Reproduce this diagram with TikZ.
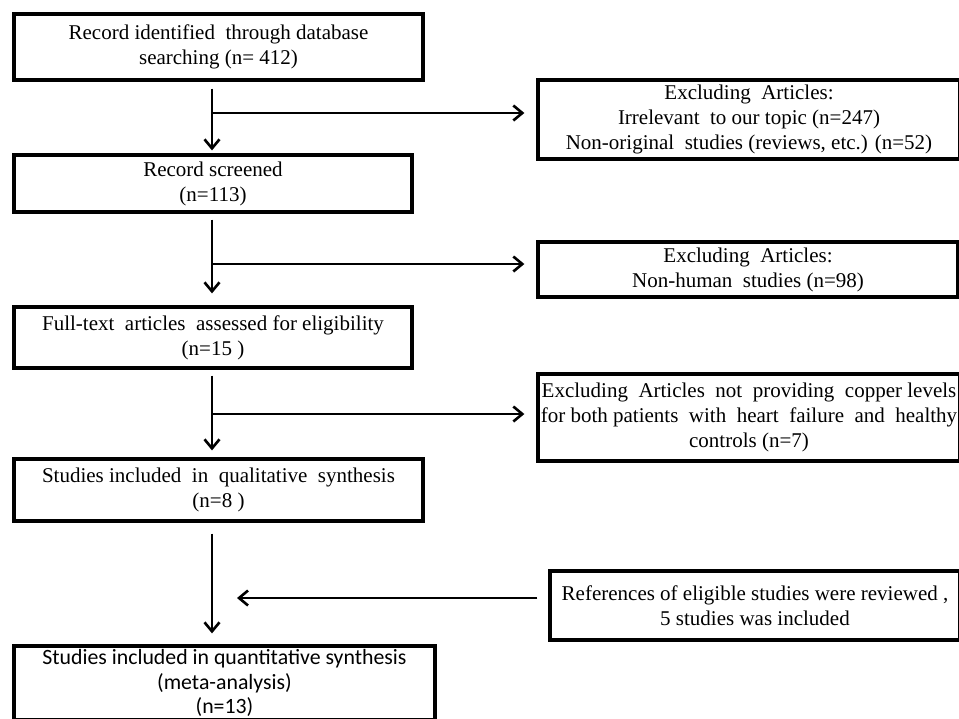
\documentclass[tikz,border=0pt]{standalone}
\usepackage{fontspec}
\setmainfont{Liberation Serif}
\newfontfamily\calibriFont{Carlito}
\usetikzlibrary{arrows.meta}

\begin{document}
\begin{tikzpicture}[x=1pt, y=-1pt, >={Straight Barb[length=9pt,width=15pt,line width=2.6pt]}]

% --- Style definitions ---
\tikzset{
    stageBox/.style={
        draw=black,
        line width=3.3pt,
        inner sep=0pt,
        align=center,
        font=\fontsize{21}{25}\selectfont
    },
    excludeBox/.style={
        stageBox
    },
    flowArrow/.style={
        ->,
        draw=black,
        line width=2.6pt
    }
}

\useasboundingbox (0,0) rectangle (959,718);

% =========================================================
% Left column: main flow
% =========================================================

\node[stageBox, minimum width=409pt, minimum height=66pt] (record) at (218.5,47)
    {Record identified\ \ through database\\searching (n= 412)};
\node[stageBox, minimum width=398pt, minimum height=57pt] (screened) at (213,183.5)
    {Record screened\\(n=113)};
\node[stageBox, minimum width=398pt, minimum height=61pt] (fulltext) at (213,337.5)
    {Full-text\ \ articles\ \ assessed for eligibility\\(n=15\ )};
\node[stageBox, minimum width=409pt, minimum height=62pt] (qualitative) at (218.5,490)
    {Studies included\ \ in\ \ qualitative\ \ synthesis\\(n=8\ )};
\node[stageBox, minimum width=421pt, minimum height=74pt,
      font=\calibriFont\fontsize{21.8}{24.5}\selectfont] (quantitative) at (224.5,683)
    {Studies included in quantitative synthesis\\(meta-analysis)\\(n=13)};

% =========================================================
% Right column: excluded and added records
% =========================================================

\node[excludeBox, minimum width=422pt, minimum height=79pt] (excludeA) at (749,119.5)
    {Excluding\ \ Articles:\\Irrelevant\ \ to our topic (n=247)\\Non-original\ \ studies (reviews, etc.) (n=52)};
\node[excludeBox, minimum width=420pt, minimum height=55pt] (excludeB) at (748,269.5)
    {Excluding\ \ Articles:\\Non-human\ \ studies (n=98)};
\node[excludeBox, minimum width=422pt, minimum height=87pt] (excludeC) at (749,417.5)
    {Excluding\ \ Articles\ \ not\ \ providing\ \ copper levels\\for both patients\ \ with\ \ heart\ \ failure\ \ and\ \ healthy\\controls (n=7)};
\node[excludeBox, minimum width=410pt, minimum height=69pt] (references) at (755,605.5)
    {References of eligible studies were reviewed ,\\5 studies was included};

% Branch points on the main flow
\coordinate (branchA) at (212,113);
\coordinate (branchB) at (212,264);
\coordinate (branchC) at (212,414);
\coordinate (joinD) at (212,598);

% Vertical arrows
\draw[flowArrow, shorten <=7pt, shorten >=3pt] (record.south -| branchA) -- (screened.north -| branchA);
\draw[flowArrow, shorten <=6pt, shorten >=12pt] (screened.south -| branchB) -- (fulltext.north -| branchB);
\draw[flowArrow, shorten <=6pt, shorten >=7pt] (fulltext.south -| branchC) -- (qualitative.north -| branchC);
\draw[flowArrow, shorten <=11pt, shorten >=11pt] (qualitative.south -| joinD) -- (quantitative.north -| joinD);

% Side arrows
\draw[flowArrow, shorten >=12pt] (branchA) -- (branchA -| excludeA.west);
\draw[flowArrow, shorten >=12pt] (branchB) -- (branchB -| excludeB.west);
\draw[flowArrow, shorten >=12pt] (branchC) -- (branchC -| excludeC.west);
\draw[flowArrow, shorten <=11pt, shorten >=25pt] (joinD -| references.west) -- (joinD);

\end{tikzpicture}
\end{document}
